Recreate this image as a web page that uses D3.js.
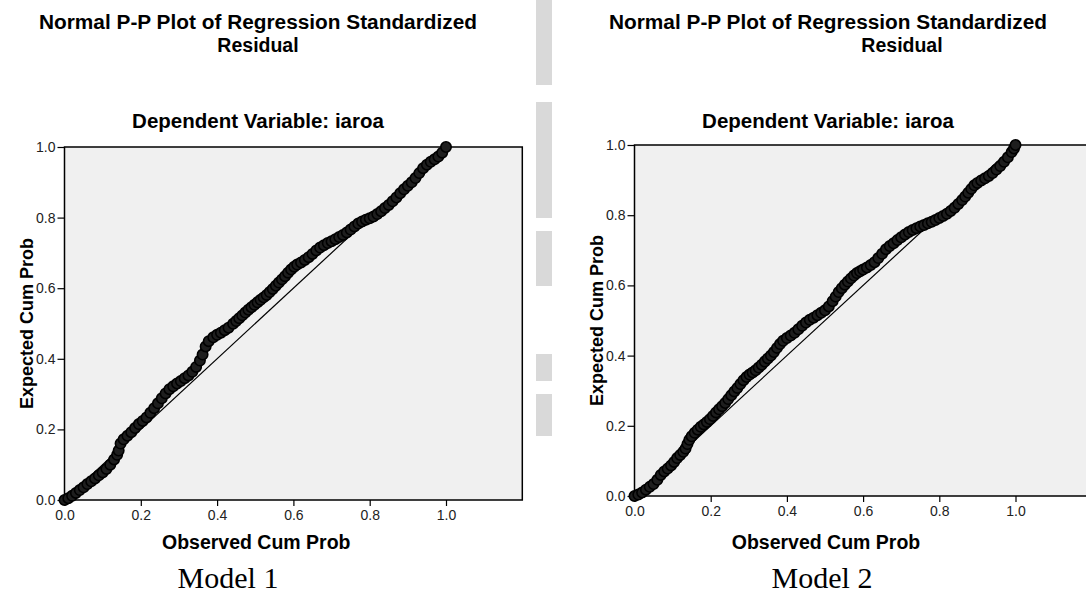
<!DOCTYPE html>
<html>
<head>
<meta charset="utf-8">
<script src="https://cdn.jsdelivr.net/npm/d3@7"></script>
<style>
  body { margin: 0; background: #fff; }
  svg { display: block; }
</style>
</head>
<body>
<script>
// P-P plots of the standardized residual, two models side by side

const WIDTH = 1086
const HEIGHT = 594

// observed vs expected cumulative probability
const obsModel1 = [0.000, 0.010, 0.020, 0.030, 0.040, 0.050, 0.060, 0.070, 0.080, 0.090,
  0.100, 0.110, 0.120, 0.130, 0.138, 0.142, 0.147, 0.155, 0.165, 0.175,
  0.185, 0.195, 0.205, 0.215, 0.225, 0.235, 0.245, 0.255, 0.265, 0.275,
  0.285, 0.295, 0.305, 0.315, 0.325, 0.335, 0.345, 0.355, 0.362, 0.370,
  0.378, 0.390, 0.400, 0.410, 0.420, 0.430, 0.442, 0.450, 0.458, 0.466,
  0.474, 0.482, 0.490, 0.498, 0.506, 0.514, 0.522, 0.530, 0.538, 0.546,
  0.554, 0.562, 0.570, 0.578, 0.586, 0.594, 0.602, 0.610, 0.620, 0.630,
  0.640, 0.650, 0.660, 0.670, 0.680, 0.690, 0.700, 0.710, 0.720, 0.730,
  0.740, 0.750, 0.760, 0.770, 0.780, 0.790, 0.800, 0.810, 0.820, 0.830,
  0.840, 0.850, 0.860, 0.870, 0.880, 0.890, 0.900, 0.910, 0.920, 0.930,
  0.940, 0.950, 0.960, 0.970, 0.980, 0.990, 1.000]
const expModel1 = [0.000, 0.005, 0.012, 0.020, 0.028, 0.036, 0.045, 0.053, 0.061, 0.070,
  0.078, 0.088, 0.100, 0.115, 0.128, 0.140, 0.160, 0.172, 0.182, 0.192,
  0.204, 0.215, 0.224, 0.234, 0.247, 0.260, 0.274, 0.288, 0.302, 0.314,
  0.322, 0.330, 0.337, 0.345, 0.353, 0.363, 0.377, 0.395, 0.412, 0.435,
  0.450, 0.461, 0.468, 0.474, 0.481, 0.488, 0.499, 0.507, 0.515, 0.523,
  0.531, 0.539, 0.546, 0.553, 0.560, 0.567, 0.574, 0.581, 0.589, 0.598,
  0.607, 0.616, 0.625, 0.634, 0.644, 0.653, 0.661, 0.667, 0.673, 0.680,
  0.688, 0.697, 0.707, 0.715, 0.722, 0.728, 0.733, 0.739, 0.745, 0.751,
  0.758, 0.766, 0.775, 0.783, 0.789, 0.794, 0.798, 0.803, 0.810, 0.818,
  0.827, 0.836, 0.846, 0.857, 0.869, 0.880, 0.890, 0.900, 0.912, 0.926,
  0.940, 0.950, 0.958, 0.965, 0.973, 0.984, 1.000]

const obsModel2 = [0.000, 0.010, 0.020, 0.030, 0.040, 0.050, 0.060, 0.069, 0.078, 0.087,
  0.096, 0.104, 0.112, 0.120, 0.128, 0.134, 0.139, 0.144, 0.150, 0.158,
  0.166, 0.174, 0.182, 0.190, 0.198, 0.206, 0.214, 0.222, 0.230, 0.238,
  0.246, 0.254, 0.262, 0.270, 0.278, 0.286, 0.294, 0.302, 0.310, 0.318,
  0.326, 0.334, 0.342, 0.350, 0.358, 0.366, 0.374, 0.382, 0.390, 0.400,
  0.410, 0.420, 0.430, 0.440, 0.450, 0.460, 0.470, 0.480, 0.490, 0.500,
  0.510, 0.520, 0.528, 0.536, 0.544, 0.552, 0.560, 0.568, 0.576, 0.584,
  0.592, 0.600, 0.610, 0.620, 0.630, 0.640, 0.650, 0.660, 0.670, 0.680,
  0.690, 0.700, 0.710, 0.720, 0.730, 0.740, 0.750, 0.760, 0.770, 0.780,
  0.790, 0.800, 0.810, 0.820, 0.830, 0.840, 0.850, 0.860, 0.868, 0.876,
  0.884, 0.892, 0.900, 0.910, 0.920, 0.930, 0.940, 0.950, 0.960, 0.970,
  0.980, 0.990, 0.996, 1.000]
const expModel2 = [0.000, 0.004, 0.010, 0.018, 0.026, 0.034, 0.046, 0.060, 0.070, 0.078,
  0.087, 0.097, 0.108, 0.117, 0.126, 0.135, 0.148, 0.160, 0.170, 0.180,
  0.189, 0.197, 0.204, 0.211, 0.219, 0.228, 0.238, 0.247, 0.256, 0.265,
  0.276, 0.287, 0.298, 0.308, 0.319, 0.330, 0.339, 0.346, 0.352, 0.358,
  0.366, 0.374, 0.383, 0.392, 0.400, 0.410, 0.422, 0.433, 0.442, 0.450,
  0.457, 0.465, 0.475, 0.485, 0.494, 0.502, 0.508, 0.515, 0.522, 0.529,
  0.540, 0.555, 0.568, 0.581, 0.592, 0.602, 0.611, 0.620, 0.628, 0.635,
  0.640, 0.645, 0.651, 0.658, 0.666, 0.678, 0.690, 0.703, 0.712, 0.720,
  0.729, 0.737, 0.745, 0.752, 0.758, 0.763, 0.768, 0.772, 0.777, 0.781,
  0.786, 0.792, 0.798, 0.804, 0.812, 0.821, 0.832, 0.843, 0.853, 0.864,
  0.875, 0.885, 0.892, 0.899, 0.905, 0.912, 0.920, 0.930, 0.940, 0.952,
  0.965, 0.980, 0.990, 1.000]

const tickValues = [0, 0.2, 0.4, 0.6, 0.8, 1.0]
const titleLines = ["Normal P-P Plot of Regression Standardized", "Residual"]
const subTitle = "Dependent Variable: iaroa"
const xTitle = "Observed Cum Prob"
const yTitle = "Expected Cum Prob"
const captions = ["Model 1", "Model 2"]

const SANS = "'Liberation Sans', Arial, sans-serif"
const SERIF = "'Liberation Serif', 'Times New Roman', serif"
const PLOT_BG = "#f0f0f0"
const RADIUS = 5.2

const svg = d3.select("body")
  .append("svg")
  .attr("width", WIDTH)
  .attr("height", HEIGHT)

// scanned page edge between the two charts
const strip = [[0, 85], [102, 218], [231, 286], [354, 381], [394, 436]]
svg.selectAll(".strip")
  .data(strip)
  .join("rect")
  .attr("class", "strip")
  .attr("x", 536)
  .attr("width", 16)
  .attr("y", d => d[0])
  .attr("height", d => d[1] - d[0])
  .attr("fill", "#d9d9d9")

const panels = [
  { obs: obsModel1, exp: expModel1, x0: 64.5, x1: 522.3, yb: 500, yt: 147,
    titleX: 258, line2X: 258, caption: captions[0], capX: 228 },
  { obs: obsModel2, exp: expModel2, x0: 634.5, x1: 1091.7, yb: 496, yt: 145,
    titleX: 828, line2X: 902, caption: captions[1], capX: 822 }
]

panels.forEach(p => {
  const g = svg.append("g")

  const xScale = d3.scaleLinear().domain([0, 1.2]).range([p.x0, p.x1])
  const yScale = d3.scaleLinear().domain([0, 1]).range([p.yb, p.yt])

  // titles
  g.append("text")
    .attr("x", p.titleX).attr("y", 29)
    .attr("text-anchor", "middle")
    .attr("textLength", 438)
    .attr("lengthAdjust", "spacingAndGlyphs")
    .style("font", `bold 19.5px ${SANS}`)
    .text(titleLines[0])
  g.append("text")
    .attr("x", p.line2X).attr("y", 52)
    .attr("text-anchor", "middle")
    .style("font", `bold 19.5px ${SANS}`)
    .text(titleLines[1])
  g.append("text")
    .attr("x", p.titleX).attr("y", 128)
    .attr("text-anchor", "middle")
    .style("font", `bold 20.5px ${SANS}`)
    .text(subTitle)

  // plot frame
  g.append("rect")
    .attr("x", xScale(0)).attr("y", yScale(1))
    .attr("width", xScale(1.2) - xScale(0))
    .attr("height", yScale(0) - yScale(1))
    .attr("fill", PLOT_BG)
    .attr("stroke", "#000")
    .attr("stroke-width", 1.5)

  // axes
  const xAxis = d3.axisBottom(xScale)
    .tickValues(tickValues)
    .tickFormat(d3.format(".1f"))
    .tickSize(6)
    .tickPadding(4)
  const yAxis = d3.axisLeft(yScale)
    .tickValues(tickValues)
    .tickFormat(d3.format(".1f"))
    .tickSize(7)
    .tickPadding(2)

  const xg = g.append("g")
    .attr("transform", `translate(0,${yScale(0)})`)
    .call(xAxis)
  const yg = g.append("g")
    .attr("transform", `translate(${xScale(0)},0)`)
    .call(yAxis)

  ;[xg, yg].forEach(a => {
    a.select(".domain").remove()
    a.selectAll(".tick line").attr("stroke", "#000").attr("stroke-width", 1.2)
    a.selectAll(".tick text")
      .attr("fill", "#222")
      .style("font", `14px ${SANS}`)
  })

  // reference diagonal
  g.append("line")
    .attr("x1", xScale(0)).attr("y1", yScale(0))
    .attr("x2", xScale(1)).attr("y2", yScale(1))
    .attr("stroke", "#000")
    .attr("stroke-width", 1.2)

  // residual points (dense open circles that merge into a band)
  const pts = p.obs.map((o, i) => ({ obs: o, exp: p.exp[i] }))
  g.selectAll(".pt")
    .data(pts)
    .join("circle")
    .attr("class", "pt")
    .attr("cx", d => xScale(d.obs))
    .attr("cy", d => yScale(d.exp))
    .attr("r", RADIUS)
    .attr("fill", "#1e1e1e")
    .attr("stroke", "#000")
    .attr("stroke-width", 1.6)

  // axis titles
  g.append("text")
    .attr("x", xScale(0.5) + 1).attr("y", 549)
    .attr("text-anchor", "middle")
    .style("font", `bold 19.5px ${SANS}`)
    .text(xTitle)
  g.append("text")
    .attr("transform", `translate(${xScale(0) - 32},${yScale(0.5)}) rotate(-90)`)
    .attr("text-anchor", "middle")
    .style("font", `bold 18px ${SANS}`)
    .text(yTitle)

  // caption under each chart
  g.append("text")
    .attr("x", p.capX).attr("y", 588)
    .attr("text-anchor", "middle")
    .style("font", `30px ${SERIF}`)
    .text(p.caption)
})
</script>
</body>
</html>
